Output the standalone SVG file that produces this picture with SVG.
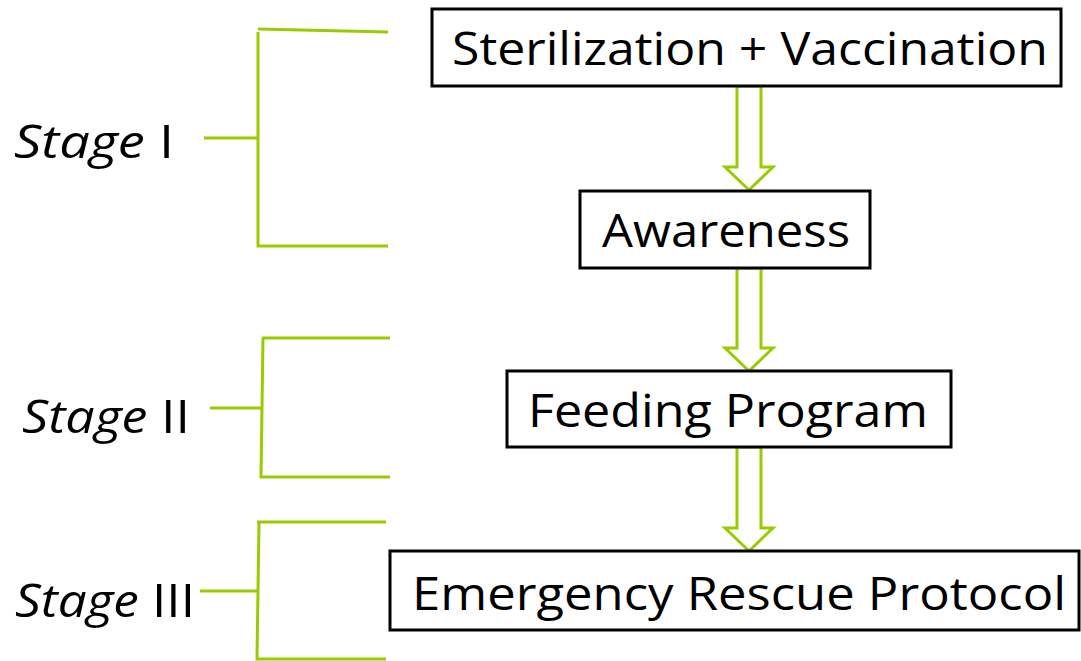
<svg xmlns="http://www.w3.org/2000/svg" width="1081" height="661" viewBox="0 0 1081 661">
<style>
.box{fill:#fff;stroke:#000;stroke-width:3}
.lbl{font-family:"Open Sans","Liberation Sans",sans-serif;font-size:45px;fill:#000}
.stg{font-family:"Open Sans","Liberation Sans",sans-serif;font-size:46px;fill:#000}
.br{fill:none;stroke:#99cc00;stroke-width:3}
.ar{fill:#fff;stroke:#99cc00;stroke-width:3;stroke-linejoin:miter}
</style>
<rect width="1081" height="661" fill="#fff"/>
<g id="connectors">
<path class="ar" d="M737,86 L761,86 L761,167 L773,167 L749,190 L725,167 L737,167 Z"/>
<path class="ar" d="M737,268 L761,268 L761,348 L773,348 L749,371 L725,348 L737,348 Z"/>
<path class="ar" d="M737,447 L761,447 L761,528 L773,528 L749,551 L725,528 L737,528 Z"/>
</g>
<g id="stage1">
<path class="br" d="M258,29 L388,32 M258,32 L258,246 L388,246 M204,138 L259,138"/>
<text class="stg" x="14" y="158" textLength="160" lengthAdjust="spacingAndGlyphs"><tspan font-style="italic">Stage</tspan> I</text>
</g>
<g id="stage2">
<path class="br" d="M262,338 L390,338 M263,338 L261,477 L390,477 M210,408 L263,408"/>
<text class="stg" x="22" y="433" textLength="168" lengthAdjust="spacingAndGlyphs"><tspan font-style="italic">Stage</tspan> II</text>
</g>
<g id="stage3">
<path class="br" d="M257,522 L386,522 M259,522 L257,659 L386,659 M200,591 L257,591"/>
<text class="stg" x="15" y="617" textLength="180" lengthAdjust="spacingAndGlyphs"><tspan font-style="italic">Stage</tspan> III</text>
</g>
<g id="n1">
<rect class="box" x="432" y="9" width="629" height="77"/>
<text class="lbl" x="452" y="65" textLength="596" lengthAdjust="spacingAndGlyphs">Sterilization + Vaccination</text>
</g>
<g id="n2">
<rect class="box" x="580" y="191" width="290" height="77"/>
<text class="lbl" x="602" y="247" textLength="248" lengthAdjust="spacingAndGlyphs">Awareness</text>
</g>
<g id="n3">
<rect class="box" x="507" y="371" width="444" height="76"/>
<text class="lbl" x="528" y="427" textLength="400" lengthAdjust="spacingAndGlyphs">Feeding Program</text>
</g>
<g id="n4">
<rect class="box" x="390" y="551" width="689" height="79"/>
<text class="lbl" x="412" y="610" textLength="654" lengthAdjust="spacingAndGlyphs">Emergency Rescue Protocol</text>
</g>
</svg>
